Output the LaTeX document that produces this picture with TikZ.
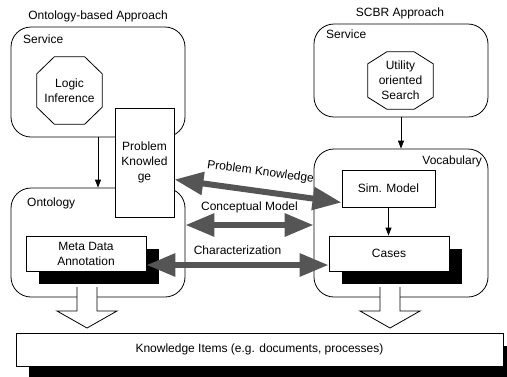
\documentclass[tikz,border=0pt]{standalone}
\usepackage{fontspec}
\setmainfont{Liberation Sans}
\usepackage{tikz}
\usetikzlibrary{calc, positioning, arrows.meta, shadows}
\definecolor{linkgray}{RGB}{85,85,85}
\tikzset{
    container/.style={rectangle, draw=black, line width=0.8pt, rounded corners=20pt},
    item/.style={rectangle, draw=black, line width=0.8pt, fill=white, align=center},
    shadowed/.style={item, drop shadow={shadow xshift=13pt, shadow yshift=-13pt, fill=black, opacity=1}},
    octagon/.style 2 args={align=center, append after command={\pgfextra{
        \draw[line width=0.8pt] ($(\tikzlastnode.north west)+(#1,0pt)$) -- ($(\tikzlastnode.north east)+(-#1,0pt)$)
            -- ($(\tikzlastnode.north east)+(0pt,-#2)$) -- ($(\tikzlastnode.south east)+(0pt,#2)$)
            -- ($(\tikzlastnode.south east)+(-#1,0pt)$) -- ($(\tikzlastnode.south west)+(#1,0pt)$)
            -- ($(\tikzlastnode.south west)+(0pt,#2)$) -- ($(\tikzlastnode.north west)+(0pt,-#2)$) -- cycle;}}},
    tag/.style={inner sep=0pt},
    flow/.style={-{Triangle[length=8pt, width=6pt]}, line width=0.8pt},
    link/.style={{Triangle[length=29pt, width=22pt]}-{Triangle[length=29pt, width=22pt]}, line width=6pt, draw=linkgray},
    hollow/.style={draw=black, line width=0.8pt}
}

\begin{document}
\begin{tikzpicture}[x=1pt, y=-1pt, font=\fontsize{12}{15}\selectfont]
    \useasboundingbox (0,0) rectangle (507,376);

    % Ontology-based Approach
    \node[tag] (ontoapp) at (98,16) {Ontology-based Approach};
    \node[container, minimum width=174pt, minimum height=110pt] (svcL) at (98,82) {};
    \node[container, minimum width=174pt, minimum height=109pt] (onto) at (98,242.5) {};
    \node[tag, anchor=west] (svcLtag) at (23,39) {Service};
    \node[tag, anchor=west] (ontotag) at (27,203) {Ontology};
    \node[octagon={17.5pt}{17pt}, minimum width=65pt, minimum height=67pt] (logic) at (69.5,90.5) {Logic\\Inference};
    \node[item, minimum width=59pt, minimum height=109pt] (pk) at (144.5,162.5) {Problem\\Knowled\\ge};
    \node[shadowed, minimum width=120pt, minimum height=35pt] (meta) at (86,253.5) {Meta Data\\Annotation};

    % SCBR Approach
    \node[tag] (scbrapp) at (400,13) {SCBR Approach};
    \node[container, minimum width=174pt, minimum height=93pt] (svcR) at (401,70.5) {};
    \node[container, minimum width=174pt, minimum height=148pt] (vocab) at (401,223) {};
    \node[tag, anchor=west] (svcRtag) at (326,34) {Service};
    \node[tag, anchor=east] (vocabtag) at (482,161) {Vocabulary};
    \node[octagon={19pt}{12pt}, minimum width=65pt, minimum height=57pt] (util) at (400.5,80.5) {Utility\\oriented\\Search};
    \node[item, minimum width=93pt, minimum height=37pt] (sim) at (388.5,188.5) {Sim. Model};
    \node[shadowed, minimum width=120pt, minimum height=35pt] (cases) at (389,253.5) {Cases};

    % Knowledge Items
    \node[shadowed, minimum width=487pt, minimum height=33pt] (know) at (259.5,349.5) {Knowledge Items (e.g. documents, processes)};

    % small arrows
    \draw[flow] (svcL.south) -- (onto.north);
    \draw[flow] (svcR.south) -- (vocab.north);
    \draw[flow] (sim.south) -- (sim.south |- cases.north);

    % links between the approaches
    \draw[link] ($(pk.east)+(0,17)$) -- node[sloped, above=7pt, text=black] {Problem Knowledge} ($(sim.west)+(0,14)$);
    \coordinate (cmL) at ($(onto.east)+(0,-17.5)$);
    \draw[link] (cmL) -- node[above=6pt] {Conceptual Model} (cmL -| vocab.west);
    \draw[link] ($(meta.east)+(0,11.5)$) -- node[above=4pt] {Characterization} ($(cases.west)+(0,11.5)$);

    % hollow arrows down to the items
    \foreach \x in {87,390} {
        \fill[white] (\x-10,287) -- (\x-10,311) -- (\x-30,311) -- (\x,328) -- (\x+30,311) -- (\x+10,311) -- (\x+10,287) -- cycle;
        \draw[hollow] (\x-10,287) -- (\x-10,311) -- (\x-30,311) -- (\x,328) -- (\x+30,311) -- (\x+10,311) -- (\x+10,287);
    }
\end{tikzpicture}
\end{document}
